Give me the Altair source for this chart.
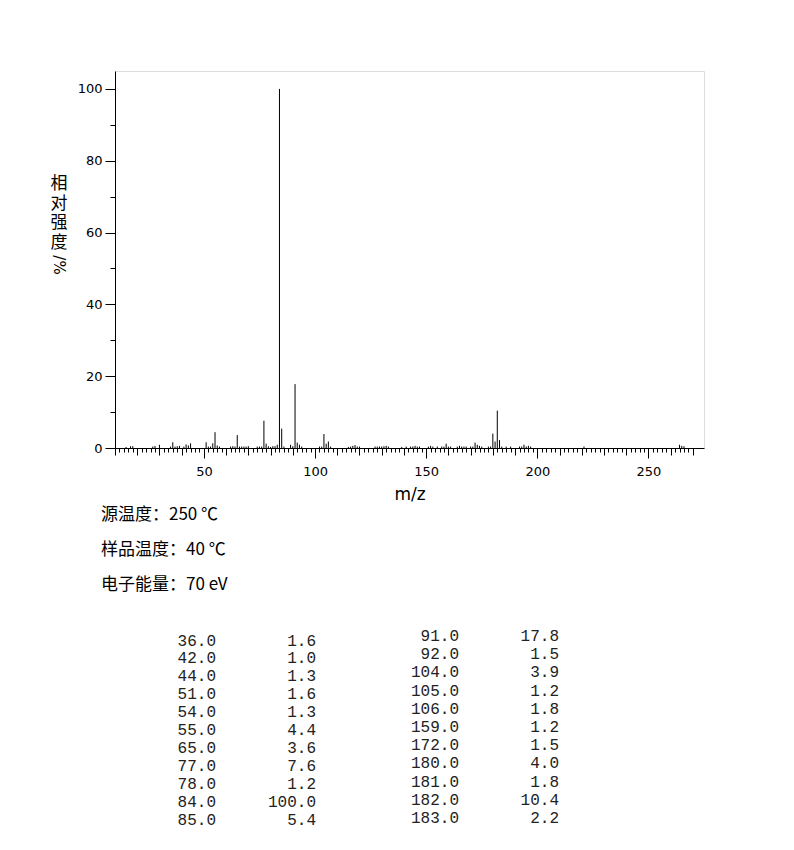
import altair as alt
import pandas as pd

# ---------------- data ----------------
# listed peaks (m/z, relative intensity %)
peak_mz = [36, 42, 44, 51, 54, 55, 65, 77, 78, 84, 85,
           91, 92, 104, 105, 106, 159, 172, 180, 181, 182, 183]
peak_int = [1.6, 1.0, 1.3, 1.6, 1.3, 4.4, 3.6, 7.6, 1.2, 100.0, 5.4,
            17.8, 1.5, 3.9, 1.2, 1.8, 1.2, 1.5, 4.0, 1.8, 10.4, 2.2]

# small peaks (estimated)
small_mz = [15, 17, 18, 27, 28, 30, 35, 37, 38, 39, 41, 43, 52, 53, 56, 57,
            62, 63, 64, 66, 67, 68, 69, 70, 74, 75, 76, 79, 80, 81, 82, 83,
            86, 89, 90, 93, 94, 102, 103, 107, 115, 116, 117, 118, 119, 120,
            127, 128, 129, 130, 131, 132, 133, 139, 141, 143, 144, 145, 146,
            147, 151, 152, 153, 155, 157, 158, 160, 161, 164, 165, 166, 167,
            168, 170, 171, 173, 174, 175, 178, 179, 184, 186, 188, 192, 193,
            194, 195, 196, 197, 221, 264, 265, 266]
small_int = [0.3, 0.5, 0.5, 0.4, 0.55, 0.9, 0.4, 0.4, 0.5, 0.6, 0.4, 0.7, 0.4, 0.4, 0.7, 0.4,
             0.4, 0.5, 0.4, 0.4, 0.4, 0.4, 0.4, 0.5, 0.4, 0.4, 0.4, 0.5, 0.3, 0.5, 0.5, 0.9,
             0.4, 0.9, 0.5, 0.9, 0.4, 0.4, 0.4, 0.4, 0.3, 0.4, 0.6, 0.8, 0.4, 0.4,
             0.4, 0.4, 0.4, 0.4, 0.5, 0.6, 0.4, 0.3, 0.4, 0.4, 0.4, 0.6, 0.4,
             0.4, 0.4, 0.6, 0.4, 0.4, 0.4, 0.4, 0.4, 0.4, 0.4, 0.6, 0.4, 0.4,
             0.4, 0.4, 0.4, 0.9, 0.6, 0.4, 0.4, 0.4, 0.4, 0.4, 0.4, 0.4, 0.4,
             0.9, 0.4, 0.6, 0.4, 0.4, 0.9, 0.6, 0.5]

conditions = ["源温度：250 ℃", "样品温度：40 ℃", "电子能量：70 eV"]
ytitle_chars = ["相", "对", "强", "度"]

x_major = [50, 100, 150, 200, 250]
x_mid = [v for v in range(10, 271, 10) if v % 50]
x_minor = [v for v in range(10, 271, 2) if v % 10]
y_major = [0, 20, 40, 60, 80, 100]
y_minor = [10, 30, 50, 70, 90]

# ---------------- frames ----------------
spec = pd.DataFrame({"mz": peak_mz + small_mz, "intensity": peak_int + small_int})
table = pd.DataFrame({
    "mz": peak_mz,
    "intensity": peak_int,
    "side": [i // 11 for i in range(len(peak_mz))],
    "row": [i % 11 for i in range(len(peak_mz))],
})
cond = pd.DataFrame({"line": conditions, "idx": list(range(len(conditions)))})
ytdf = pd.DataFrame({"ch": ytitle_chars, "idx": list(range(len(ytitle_chars)))})

W, H = 589, 377
XD = [10, 275]
YD = [0, 105]
LF = "DejaVu Sans"

xs = alt.Scale(domain=XD, nice=False, zero=False)
ys = alt.Scale(domain=YD, nice=False, zero=False)

common_axis = dict(grid=False, tickColor="black", domainColor="black", tickWidth=1)

peaks = alt.Chart(spec).mark_rule(color="black", strokeWidth=1).encode(
    x=alt.X("mz:Q", scale=xs, axis=alt.Axis(
        values=x_major, tickSize=10, orient="bottom", title="m/z",
        labelFont=LF, labelFontSize=13, labelColor="black", labelPadding=7,
        labelFlush=False, titleFont=LF, titleFontSize=17, titleFontWeight="normal",
        titleColor="black", titlePadding=8, **common_axis)),
    y=alt.Y("intensity:Q", scale=ys, axis=alt.Axis(
        values=y_major, tickSize=10, orient="left", title=None,
        labelFont=LF, labelFontSize=13, labelColor="black", labelPadding=3,
        labelFlush=False, **common_axis)),
    y2=alt.datum(0),
)

mid_ticks = alt.Chart(spec).mark_rule(opacity=0).encode(
    x=alt.X("mz:Q", scale=xs, axis=alt.Axis(
        values=x_mid, tickSize=7, orient="bottom", title=None, labels=False,
        domain=False, **common_axis)),
    y=alt.Y("intensity:Q", scale=ys, axis=alt.Axis(
        values=y_minor, tickSize=5, orient="left", title=None, labels=False,
        domain=False, **common_axis)),
)

minor_ticks = alt.Chart(spec).mark_rule(opacity=0).encode(
    x=alt.X("mz:Q", scale=xs, axis=alt.Axis(
        values=x_minor, tickSize=4, orient="bottom", title=None, labels=False,
        domain=False, **common_axis)),
    y=alt.Y("intensity:Q", scale=ys, axis=None),
)

ytitle = alt.Chart(ytdf).mark_text(
    font="Noto Sans CJK SC", fontSize=17, align="center",
    baseline="middle", color="black"
).transform_calculate(
    py="113 + 19.7 * datum.idx"
).encode(
    x=alt.value(-56),
    y=alt.Y("py:Q", scale=None, axis=None),
    text="ch:N",
)

ytitle2 = alt.Chart(cond).mark_text(
    font=LF, fontSize=15, angle=90, align="center", baseline="middle", color="black"
).encode(
    x=alt.value(-56), y=alt.value(194), text=alt.value("/%")
).transform_filter("datum.idx == 0")

cond_text = alt.Chart(cond).mark_text(
    font="Noto Sans CJK SC", fontSize=17, align="left", baseline="middle", color="black"
).transform_calculate(
    py="444 + 35 * datum.idx"
).encode(
    x=alt.value(-14),
    y=alt.Y("py:Q", scale=None, axis=None),
    text="line:N",
)

tab_mz = alt.Chart(table).mark_text(
    font="Liberation Mono", fontSize=16, align="right", baseline="middle", color="#222"
).transform_calculate(
    px="datum.side == 0 ? 101 : 344",
    py="datum.side == 0 ? 569.5 + 17.95 * datum.row : 565 + 18.2 * datum.row",
).encode(
    x=alt.X("px:Q", scale=None, axis=None),
    y=alt.Y("py:Q", scale=None, axis=None),
    text=alt.Text("mz:Q", format=".1f"),
)

tab_int = alt.Chart(table).mark_text(
    font="Liberation Mono", fontSize=16, align="right", baseline="middle", color="#222"
).transform_calculate(
    px="datum.side == 0 ? 201 : 444",
    py="datum.side == 0 ? 569.5 + 17.95 * datum.row : 565 + 18.2 * datum.row",
).encode(
    x=alt.X("px:Q", scale=None, axis=None),
    y=alt.Y("py:Q", scale=None, axis=None),
    text=alt.Text("intensity:Q", format=".1f"),
)

chart = alt.layer(
    peaks, mid_ticks, minor_ticks, ytitle, ytitle2, cond_text, tab_mz, tab_int
).resolve_axis(x="independent", y="independent").properties(
    width=W, height=H,
    autosize=alt.AutoSizeParams(type="none"),
    padding={"left": 107, "top": 63, "right": 80, "bottom": 392},
).configure_view(
    stroke="black", strokeWidth=1
).configure(background="white")

chart.save("out.html", embed_options={"renderer": "svg", "actions": False})
